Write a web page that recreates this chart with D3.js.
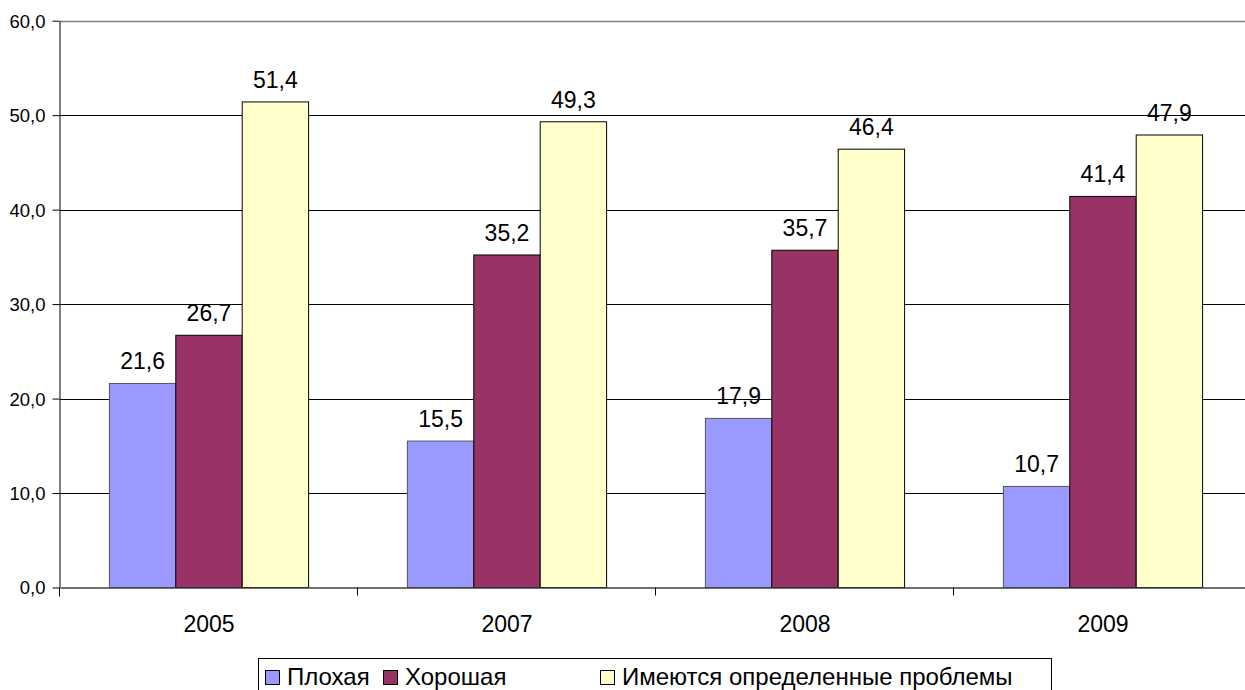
<!DOCTYPE html>
<html><head><meta charset="utf-8">
<script src="https://cdn.jsdelivr.net/npm/d3@7"></script>
<style>body{margin:0;background:#fff}svg{display:block}text{font-family:Arial,"Liberation Sans",sans-serif}</style>
</head><body>
<svg id="c" width="1245" height="690"></svg>
<script>
const categories = ["2005","2007","2008","2009"];
const seriesNames = ["Плохая","Хорошая","Имеются определенные проблемы"];
const bad  = [21.6, 15.5, 17.9, 10.7];
const good = [26.7, 35.2, 35.7, 41.4];
const some = [51.4, 49.3, 46.4, 47.9];
const yTicks = [0,10,20,30,40,50,60];
const colors = ["#9999FF","#993366","#FFFFCC"];

const series = [bad, good, some];
const svg = d3.select("#c");
const x0 = 60, x1 = 1252, yBottom = 587.5, yTop = 20.7;
const x = d3.scaleBand().domain(categories).range([x0, x1]).paddingInner(0).paddingOuter(0);
const xs = d3.scaleBand().domain(d3.range(3)).range([0, x.bandwidth()]).paddingOuter(0.744).paddingInner(0);
const y = d3.scaleLinear().domain([0,60]).range([yBottom, yTop]);
const fmt = v => d3.format(".1f")(v).replace(".", ",");

// gridlines
svg.append("g").selectAll("line").data(yTicks.filter(d=>d>0)).join("line")
  .attr("x1", x0).attr("x2", 1245).attr("y1", d=>Math.round(y(d))+0.5).attr("y2", d=>Math.round(y(d))+0.5)
  .attr("stroke", d=> d===60 ? "#808080" : "#000").attr("stroke-width", d=> d===60 ? 1.5 : 1);

// y axis
const yAxis = d3.axisLeft(y).tickValues(yTicks).tickFormat(fmt).tickSize(7).tickSizeOuter(0);
const gy = svg.append("g").attr("transform", `translate(${x0-0.5},0)`).call(yAxis);
gy.select(".domain").attr("stroke","#000");
gy.selectAll(".tick line").attr("stroke","#000");
gy.selectAll("text").attr("font-size", 18.5).attr("fill","#000").attr("x", -14).attr("dy","0.35em");

// bars
categories.forEach((c, i) => {
  series.forEach((s, j) => {
    const bx = x(c) + xs(j);
    svg.append("rect").attr("x", bx).attr("y", y(s[i])).attr("width", xs.bandwidth()).attr("height", yBottom - y(s[i]))
      .attr("fill", colors[j]).attr("stroke", j===0 ? "#555" : "#000").attr("stroke-width", 1);
    svg.append("text").attr("x", bx + xs.bandwidth()/2).attr("y", y(s[i]) - 14)
      .attr("text-anchor","middle").attr("font-size", 23).attr("fill","#000").text(fmt(s[i]));
  });
});

// x axis
const xAxis = d3.axisBottom(x).tickSize(0).tickSizeOuter(0);
const gx = svg.append("g").attr("transform", `translate(0,${yBottom})`).call(xAxis);
gx.select(".domain").attr("stroke","#404040").attr("stroke-width",1.5);
gx.selectAll("text").attr("font-size", 23).attr("fill","#000").attr("y", 44.5).attr("dy", null);
// category boundary ticks
svg.append("g").selectAll("line").data(categories.slice(1)).join("line")
  .attr("x1", d=>Math.round(x(d))-0.5).attr("x2", d=>Math.round(x(d))-0.5)
  .attr("y1", yBottom).attr("y2", yBottom+8).attr("stroke","#000");
svg.append("line").attr("x1", x0-0.5).attr("x2", x0-0.5).attr("y1", yBottom).attr("y2", yBottom+9).attr("stroke","#000");

// legend
const lg = svg.append("g");
lg.append("rect").attr("x", 258.5).attr("y", 658.5).attr("width", 793).attr("height", 40).attr("fill","#fff").attr("stroke","#000");
const legendX = [265, 383, 600];
seriesNames.forEach((n, j) => {
  lg.append("rect").attr("x", legendX[j]+0.5).attr("y", 670.5).attr("width", 14).attr("height", 14)
    .attr("fill", colors[j]).attr("stroke", "#000");
  lg.append("text").attr("x", legendX[j] + 22).attr("y", 685).attr("font-size", 24).attr("fill","#000").text(n);
});
</script>
</body></html>
